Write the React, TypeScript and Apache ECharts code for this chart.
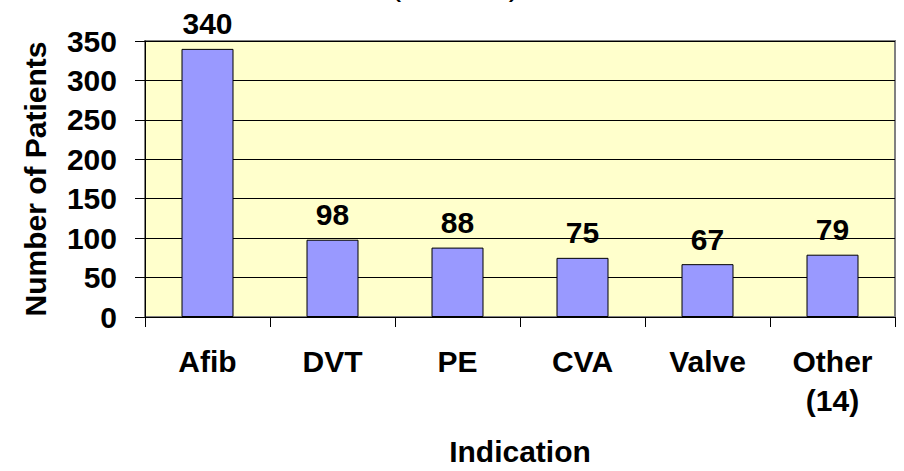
import React, { useEffect, useRef } from "react";
import * as echarts from "echarts";

const categories = ["Afib", "DVT", "PE", "CVA", "Valve", "Other\n(14)"];
const patients = [340, 98, 88, 75, 67, 79];
const yTicks = { min: 0, max: 350, interval: 50 };
const titleText = "(n = 747)";
const xAxisTitle = "Indication";
const yAxisTitle = "Number of Patients";

const FONT = "'Liberation Sans', Arial, Helvetica, sans-serif";

export default function App() {
  const ref = useRef<HTMLDivElement>(null);
  useEffect(() => {
    document.body.style.margin = "0";
    if (!ref.current) return;
    const chart = echarts.init(ref.current, null, { renderer: "svg" });
    chart.setOption({
      animation: false,
      backgroundColor: "#ffffff",
      textStyle: { fontFamily: FONT },
      graphic: [
        {
          type: "text",
          x: 455,
          y: -16,
          style: {
            text: titleText,
            fontFamily: FONT,
            fontSize: 32,
            fill: "#000",
            align: "center",
            verticalAlign: "middle",
          },
        },
      ],
      grid: {
        left: 145,
        right: 9,
        top: 41,
        bottom: 150,
        show: true,
        backgroundColor: "#FFFFCC",
        borderColor: "#808080",
        borderWidth: 2,
      },
      xAxis: {
        type: "category",
        data: categories,
        axisLine: { show: true, lineStyle: { color: "#000", width: 1 } },
        axisTick: { show: true, length: 10, lineStyle: { color: "#000" } },
        axisLabel: {
          fontFamily: FONT,
          fontSize: 30,
          fontWeight: "bold",
          color: "#000",
          margin: 25,
          lineHeight: 39,
          interval: 0,
        },
        name: xAxisTitle,
        nameLocation: "middle",
        nameGap: 119,
        nameTextStyle: {
          fontFamily: FONT,
          fontSize: 30,
          fontWeight: "bold",
          color: "#000",
        },
      },
      yAxis: {
        type: "value",
        min: yTicks.min,
        max: yTicks.max,
        interval: yTicks.interval,
        axisLine: { show: true, lineStyle: { color: "#000", width: 1 } },
        axisTick: { show: true, length: 10, lineStyle: { color: "#000" } },
        splitLine: { show: true, lineStyle: { color: "#000", width: 1 } },
        axisLabel: {
          fontFamily: FONT,
          fontSize: 30,
          fontWeight: "bold",
          color: "#000",
          margin: 28,
        },
        name: yAxisTitle,
        nameLocation: "middle",
        nameGap: 95,
        nameTextStyle: {
          fontFamily: FONT,
          fontSize: 30,
          fontWeight: "bold",
          color: "#000",
        },
      },
      series: [
        {
          type: "bar",
          data: patients,
          barWidth: 52,
          itemStyle: { color: "#9999FF", borderColor: "#000", borderWidth: 1 },
          label: {
            show: true,
            position: "top",
            distance: 10,
            fontFamily: FONT,
            fontSize: 30,
            fontWeight: "bold",
            color: "#000",
          },
        },
      ],
    });
    return () => chart.dispose();
  }, []);
  return <div ref={ref} style={{ width: 904, height: 471 }} />;
}
